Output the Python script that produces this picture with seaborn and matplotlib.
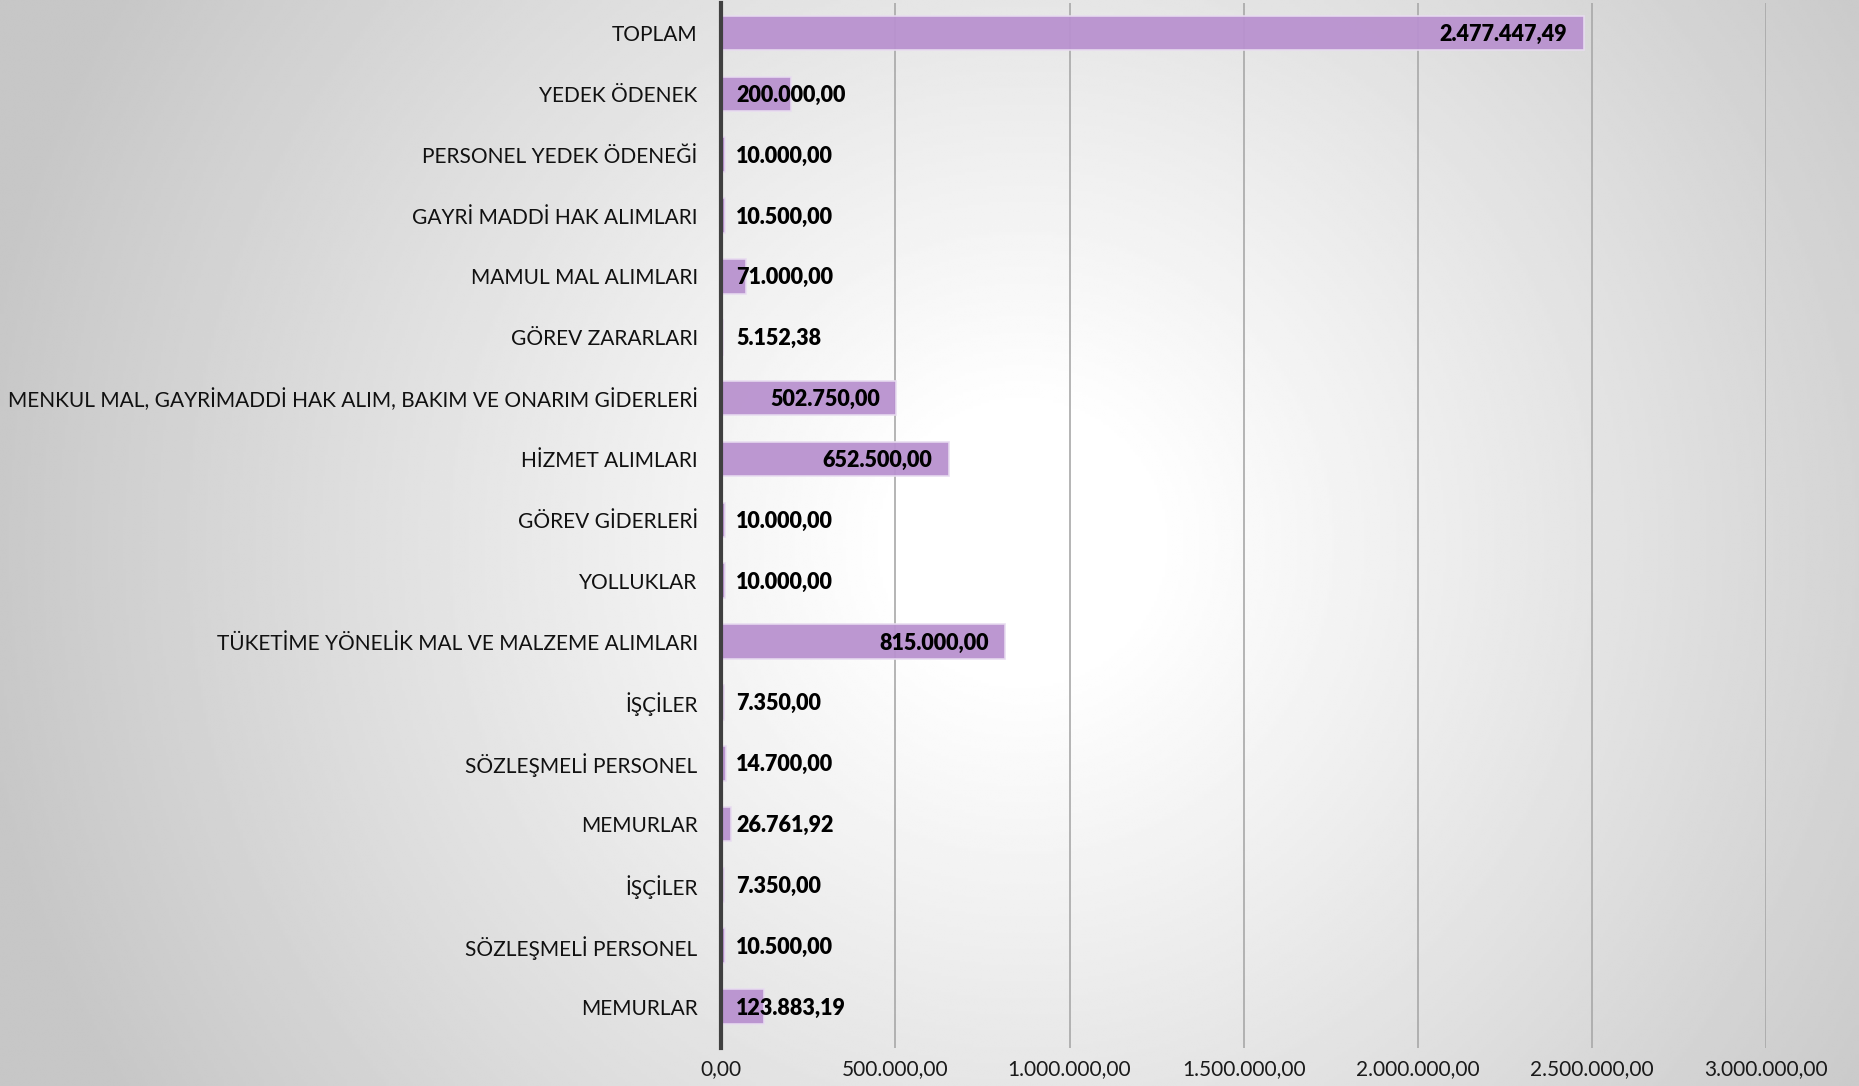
import matplotlib
matplotlib.use('Agg')
import matplotlib.pyplot as plt
import numpy as np
import pandas as pd
import seaborn as sns

# kalemler (yukaridan asagiya)
kalemler = ['TOPLAM', 'YEDEK ÖDENEK', 'PERSONEL YEDEK ÖDENEĞİ', 'GAYRİ MADDİ HAK ALIMLARI',
            'MAMUL MAL ALIMLARI', 'GÖREV ZARARLARI',
            'MENKUL MAL, GAYRİMADDİ HAK ALIM, BAKIM VE ONARIM GİDERLERİ',
            'HİZMET ALIMLARI', 'GÖREV GİDERLERİ', 'YOLLUKLAR',
            'TÜKETİME YÖNELİK MAL VE MALZEME ALIMLARI', 'İŞÇİLER', 'SÖZLEŞMELİ PERSONEL',
            'MEMURLAR', 'İŞÇİLER', 'SÖZLEŞMELİ PERSONEL', 'MEMURLAR']
tutarlar = [2477447.49, 200000.00, 10000.00, 10500.00, 71000.00, 5152.38, 502750.00,
            652500.00, 10000.00, 10000.00, 815000.00, 7350.00, 14700.00, 26761.92,
            7350.00, 10500.00, 123883.19]
x_ticks = [0, 500000, 1000000, 1500000, 2000000, 2500000, 3000000]


def tr_fmt(v):
    s = f'{v:,.2f}'
    return s.replace(',', '_').replace('.', ',').replace('_', '.')


df = pd.DataFrame({'id': [str(i) for i in range(len(kalemler))], 'tutar': tutarlar})

plt.rcParams['font.family'] = ['Lato', 'DejaVu Sans']

fig = plt.figure(figsize=(18.59, 10.86), dpi=100)

# radyal gri arka plan
bg = fig.add_axes([0, 0, 1, 1], zorder=-10)
yy, xx = np.mgrid[0:1:400j, 0:1.712:700j]
r = np.sqrt((xx - 0.55 * 1.712) ** 2 + (yy - 0.5) ** 2)
shade = np.clip((r - 0.12) / 0.85, 0, 1)
bg.imshow(1 - 0.22 * shade, cmap='gray', vmin=0, vmax=1, aspect='auto',
          extent=[0, 1, 0, 1], origin='lower', interpolation='bilinear')
bg.axis('off')

ax = fig.add_axes([0.388, 0.035, 0.562, 0.962])
ax.set_facecolor('none')

sns.barplot(data=df, x='tutar', y='id', orient='h', color='#b992cf', saturation=1,
            alpha=0.95, width=0.57, edgecolor='#e8dcf0', linewidth=1.2, ax=ax, zorder=3)

ax.set_xlim(0, 3000000)
ax.set_ylim(16.68, -0.49)
ax.set_xticks(x_ticks)
ax.set_xticklabels([tr_fmt(t) for t in x_ticks], fontsize=15, color='#1a1a1a')
ax.set_yticks(range(len(kalemler)))
ax.set_yticklabels(kalemler, fontsize=15, color='#111111')
ax.tick_params(axis='y', length=0, pad=17)
ax.tick_params(axis='x', length=0, pad=8)
ax.set_xlabel('')
ax.set_ylabel('')

ax.grid(axis='x', color='#a8a8a8', linewidth=1.2, zorder=0)
ax.grid(axis='y', visible=False)
for s in ['top', 'right', 'bottom']:
    ax.spines[s].set_visible(False)
ax.spines['left'].set_color('#404040')
ax.spines['left'].set_linewidth(3)
ax.spines['left'].set_zorder(5)

for i, v in enumerate(tutarlar):
    if v >= 400000:
        ax.annotate(tr_fmt(v), (v, i), xytext=(-12, -1), textcoords='offset points',
                    ha='right', va='center', fontsize=15.5, fontweight='heavy',
                    color='black', zorder=6)
    else:
        ax.annotate(tr_fmt(v), (0, i), xytext=(10.5, -1), textcoords='offset points',
                    ha='left', va='center', fontsize=15.5, fontweight='heavy',
                    color='black', zorder=6)

fig.savefig('out.png', dpi=100)
